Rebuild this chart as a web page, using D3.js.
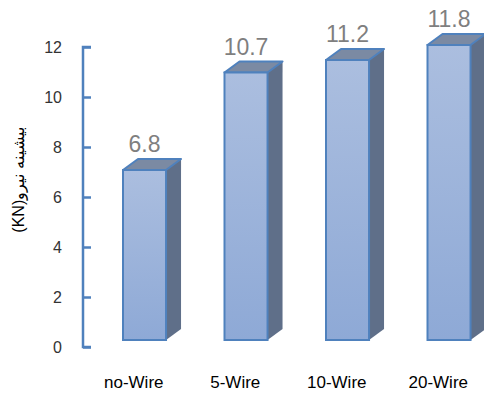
<!DOCTYPE html>
<html>
<head>
<meta charset="utf-8">
<script src="https://cdn.jsdelivr.net/npm/d3@7/dist/d3.min.js"></script>
<style>
  html, body { margin: 0; padding: 0; background: #fff; }
  svg { display: block; }
</style>
</head>
<body>
<svg id="chart" width="484" height="396"></svg>
<script>
// Peak force per reinforcement configuration
const categories = ["no-Wire", "5-Wire", "10-Wire", "20-Wire"];
const values = [6.8, 10.7, 11.2, 11.8];
const yTicks = [0, 2, 4, 6, 8, 10, 12];
const yTitle = "(KN)" + "بیشینه نیرو";

const svg = d3.select("#chart");
const font = "'Liberation Sans', Arial, sans-serif";

// Scales
const x = d3.scaleBand().domain(categories).range([83, 489]).padding(0);
const y = d3.scaleLinear().domain([0, 12]).range([347, 47]);

// 3D box geometry
const frontOffset = 40;                  // front face left edge inside band
const frontWidth = x.bandwidth() * 0.424;
const depthX = 15, depthY = -11;        // receding depth of each box
const lift = -7;                        // front face baseline relative to axis zero

// Gradient for the front face
const defs = svg.append("defs");
const grad = defs.append("linearGradient")
  .attr("id", "frontGrad").attr("x1", 0).attr("y1", 0).attr("x2", 0).attr("y2", 1);
grad.append("stop").attr("offset", "0%").attr("stop-color", "#abbedf");
grad.append("stop").attr("offset", "100%").attr("stop-color", "#8ea9d6");

// Y axis
const yAxis = d3.axisRight(y).tickValues(yTicks).tickSize(8).tickFormat("");
const gy = svg.append("g").attr("transform", "translate(83,0)").call(yAxis);
gy.select(".domain").attr("stroke", "#4f81bd").attr("stroke-width", 2.5)
  .attr("d", `M8,${y(12)}H0V${y(0)}H8`);
gy.selectAll(".tick line").attr("stroke", "#4f81bd").attr("stroke-width", 2.5);

// Y tick labels
svg.append("g").selectAll("text").data(yTicks).join("text")
  .attr("x", 62).attr("y", d => y(d)).attr("dy", "0.35em")
  .attr("text-anchor", "end")
  .attr("font-family", font).attr("font-size", 16).attr("fill", "#333")
  .text(d => d);

// Y axis title
svg.append("text")
  .attr("transform", "translate(24,180) rotate(-90)")
  .attr("text-anchor", "middle")
  .attr("font-family", font).attr("font-size", 16).attr("fill", "#000")
  .text(yTitle);

// Boxes
const data = categories.map((c, i) => ({ c, v: values[i] }));
const bars = svg.append("g").selectAll("g").data(data).join("g");

bars.each(function (d) {
  const g = d3.select(this);
  const x0 = x(d.c) + frontOffset;
  const x1 = x0 + frontWidth;
  const yTop = y(d.v) + lift;
  const yBot = y(0) + lift;

  // side face
  g.append("path")
    .attr("d", `M${x1},${yTop}L${x1 + depthX},${yTop + depthY}L${x1 + depthX},${yBot + depthY}L${x1},${yBot}Z`)
    .attr("fill", "#5f6f89");
  // top face
  g.append("path")
    .attr("d", `M${x0},${yTop}L${x0 + depthX},${yTop + depthY}L${x1 + depthX},${yTop + depthY}L${x1},${yTop}Z`)
    .attr("fill", "#7b8aa3").attr("stroke", "#4f81bd").attr("stroke-width", 2)
    .attr("stroke-linejoin", "round");
  // front face
  g.append("rect")
    .attr("x", x0).attr("y", yTop)
    .attr("width", frontWidth).attr("height", yBot - yTop)
    .attr("fill", "url(#frontGrad)").attr("stroke", "#4f81bd").attr("stroke-width", 2);
  // value label
  g.append("text")
    .attr("x", x0 + frontWidth / 2).attr("y", yTop - 18)
    .attr("text-anchor", "middle")
    .attr("font-family", font).attr("font-size", 23).attr("fill", "#7f7f7f")
    .text(d.v);
});

// Category labels
svg.append("g").selectAll("text").data(categories).join("text")
  .attr("x", d => x(d) + x.bandwidth() / 2).attr("y", 388)
  .attr("text-anchor", "middle")
  .attr("font-family", font).attr("font-size", 17).attr("fill", "#000")
  .text(d => d);
</script>
</body>
</html>
